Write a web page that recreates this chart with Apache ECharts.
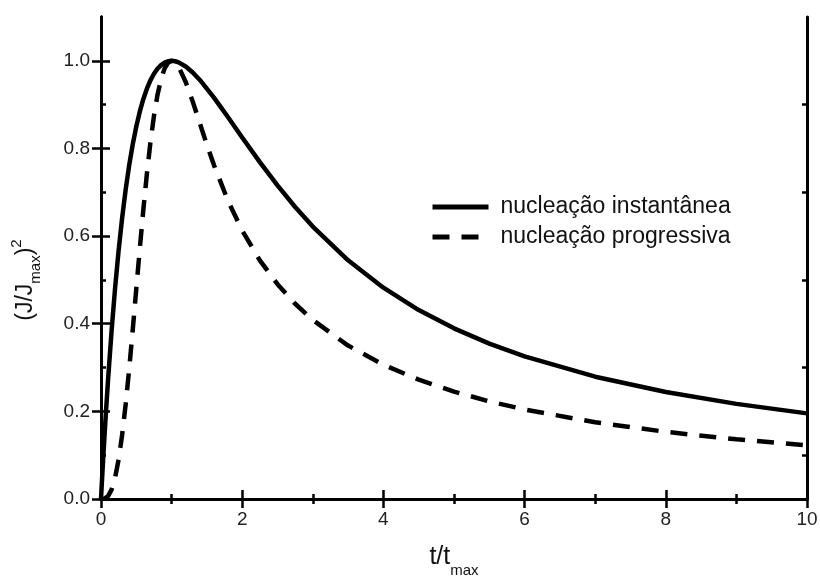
<!DOCTYPE html>
<html>
<head>
<meta charset="utf-8">
<script src="https://cdn.jsdelivr.net/npm/echarts@6/dist/echarts.min.js"></script>
<style>
  html, body { margin: 0; padding: 0; background: #ffffff; }
  #chart { width: 820px; height: 577px; }
</style>
</head>
<body>
<div id="chart"></div>
<script>
// ---- data ----
const seriesNames = ['nucleação instantânea', 'nucleação progressiva'];

const xInst = [0, 0.01, 0.02, 0.03, 0.05, 0.07, 0.1, 0.15, 0.2, 0.25, 0.3, 0.35, 0.4, 0.45, 0.5, 0.55,
  0.6, 0.65, 0.7, 0.75, 0.8, 0.85, 0.9, 0.95, 1.0, 1.05, 1.1, 1.2, 1.3, 1.4, 1.6, 1.8, 2.0, 2.25, 2.5, 2.75, 3, 3.5, 4, 4.5, 5, 5.5, 6, 7, 8, 9, 10];
const yInst = [0, 0.0305, 0.0602, 0.0891, 0.1449, 0.1979, 0.2724, 0.3844, 0.4824, 0.5679, 0.6423, 0.7068, 0.7624, 0.8100, 0.8502, 0.8844,
  0.9129, 0.9364, 0.9553, 0.9704, 0.9819, 0.9902, 0.9958, 0.9989, 1.0, 0.9990, 0.9965, 0.9872, 0.9734, 0.9564, 0.9160, 0.8712, 0.8251, 0.7687, 0.7156, 0.6664, 0.6217, 0.5447, 0.4822, 0.4312, 0.3894, 0.3546, 0.3254, 0.2791, 0.2443, 0.2171, 0.1954];

const xProg = [0, 0.05, 0.1, 0.15, 0.2, 0.25, 0.3, 0.35, 0.4, 0.45, 0.5, 0.55, 0.6, 0.65, 0.7, 0.75, 0.8, 0.85, 0.9, 0.95,
  1.0, 1.05, 1.1, 1.2, 1.3, 1.4, 1.5, 1.6, 1.8, 2, 2.25, 2.5, 2.75, 3, 3.5, 4, 4.5, 5, 5.5, 6, 7, 8, 9, 10];
const yProg = [0, 0.0008, 0.0065, 0.0214, 0.0488, 0.0905, 0.1469, 0.2170, 0.2980, 0.3870, 0.4797, 0.5723, 0.6608, 0.7421, 0.8137, 0.8739, 0.9221, 0.9580, 0.9822, 0.9958,
  1.0, 0.9962, 0.9861, 0.9518, 0.9066, 0.8574, 0.8084, 0.7620, 0.6801, 0.6127, 0.5446, 0.4902, 0.4456, 0.4085, 0.3501, 0.3064, 0.2723, 0.2451, 0.2228, 0.2042, 0.1751, 0.1532, 0.1362, 0.1225];

const yMajorTicks = [0, 0.2, 0.4, 0.6, 0.8, 1.0];
const yMinorTicks = [0.1, 0.3, 0.5, 0.7, 0.9];

// ---- chart ----
const FONT = 'Liberation Sans, Arial, sans-serif';
const pairs = (xs, ys) => xs.map((x, i) => [x, ys[i]]);

const frame = { show: true, lineStyle: { color: '#000', width: 3 } };

function xAx(pos, labels) {
  return {
    type: 'value', position: pos, min: 0, max: 10, interval: 2,
    axisLine: frame,
    axisTick: { show: true, inside: true, length: 9, lineStyle: { color: '#000', width: 2.5 } },
    minorTick: { show: true, splitNumber: 2, length: 5, lineStyle: { color: '#000', width: 2.5 } },
    axisLabel: { show: labels, margin: 11, color: '#222', fontSize: 19, fontFamily: FONT },
    splitLine: { show: false }
  };
}
function yAx(pos, ticks, len, labels) {
  return {
    type: 'value', position: pos, min: 0, max: 1.1, interval: 0.2,
    axisLine: frame,
    axisTick: { show: true, inside: true, length: len, customValues: ticks, lineStyle: { color: '#000', width: 2.5 } },
    axisLabel: { show: labels, customValues: yMajorTicks, margin: 11, color: '#222', fontSize: 19, fontFamily: FONT,
      formatter: v => v.toFixed(1) },
    splitLine: { show: false }
  };
}

const xAxes = [xAx('bottom', true), xAx('top', false)];
xAxes[0].name = '{m|t/t}{s|max}';
xAxes[0].nameLocation = 'middle';
xAxes[0].nameGap = 38;
xAxes[0].nameTextStyle = {
  color: '#111', fontFamily: FONT,
  rich: {
    m: { fontSize: 25, fontFamily: FONT, color: '#111' },
    s: { fontSize: 15, fontFamily: FONT, color: '#111', padding: [26, 0, 0, 0] }
  }
};

const yAxes = [yAx('left', yMajorTicks, 9, true), yAx('right', yMajorTicks, 9, false),
               yAx('left', yMinorTicks, 5, false), yAx('right', yMinorTicks, 5, false)];
yAxes[0].name = '{m|(J/J}{s|max}{m|)}{p|2}';
yAxes[0].nameLocation = 'middle';
yAxes[0].nameGap = 58;
yAxes[0].nameTextStyle = {
  color: '#111', fontFamily: FONT, padding: [0, 44, 0, 0],
  rich: {
    m: { fontSize: 23, fontFamily: FONT, color: '#111' },
    s: { fontSize: 15, fontFamily: FONT, color: '#111', padding: [19, 0, 0, 0] },
    p: { fontSize: 15, fontFamily: FONT, color: '#111', padding: [0, 0, 18, 0] }
  }
};

const chart = echarts.init(document.getElementById('chart'), null, { renderer: 'canvas' });
chart.setOption({
  backgroundColor: '#ffffff',
  animation: false,
  grid: { left: 101, right: 13, top: 17, bottom: 78, containLabel: false, outerBoundsMode: 'none' },
  legend: {
    orient: 'vertical', left: 430, top: 195, padding: 0,
    itemWidth: 56, itemHeight: 14, itemGap: 6,
    data: seriesNames,
    itemStyle: { opacity: 0 },
    lineStyle: { width: 5 },
    textStyle: { fontSize: 23, fontFamily: FONT, color: '#111', lineHeight: 24, padding: [0, 0, 0, 7] }
  },
  xAxis: xAxes,
  yAxis: yAxes,
  series: [
    {
      name: seriesNames[0], type: 'line', xAxisIndex: 0, yAxisIndex: 0,
      data: pairs(xInst, yInst), showSymbol: false, symbol: 'none',
      lineStyle: { color: '#000', width: 4.5 }, itemStyle: { color: '#000' }
    },
    {
      name: seriesNames[1], type: 'line', xAxisIndex: 0, yAxisIndex: 0,
      data: pairs(xProg, yProg), showSymbol: false, symbol: 'none',
      lineStyle: { color: '#000', width: 4.5, type: [17, 12] }, itemStyle: { color: '#000' }
    }
  ]
});
</script>
</body>
</html>
